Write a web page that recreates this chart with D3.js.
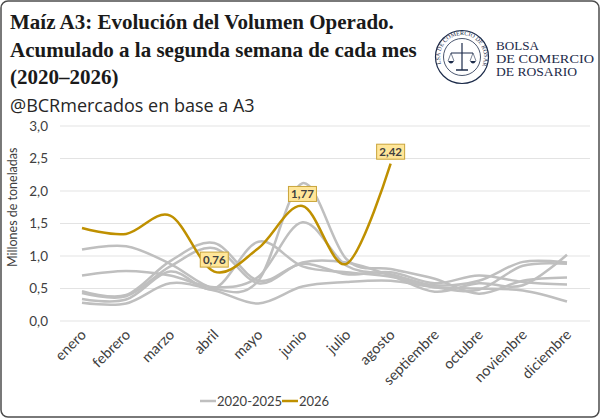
<!DOCTYPE html>
<html>
<head>
  <meta charset="utf-8">
  <title>Maiz A3</title>
  <style>
    body { margin: 0; background: #fff; }
    .axis text { font-family: Lato, "Open Sans", sans-serif; font-size: 14.5px; fill: #404040; }
    .axis path, .axis line { display: none; }
    .grid line { stroke: #e3e3e3; stroke-width: 1; }
  </style>
</head>
<body>
<script src="https://d3js.org/d3.v7.min.js"></script>
<script>
  var width = 600,
      height = 418;

  var months = ['enero', 'febrero', 'marzo', 'abril', 'mayo', 'junio', 'julio',
                'agosto', 'septiembre', 'octubre', 'noviembre', 'diciembre'];

  // 2020-2025 (gris)
  var y2020 = [0.28, 0.27, 0.58, 0.47, 0.27, 0.53, 0.60, 0.62, 0.52, 0.50, 0.47, 0.30];
  var y2021 = [1.10, 1.15, 0.88, 0.50, 0.62, 2.12, 0.95, 0.80, 0.65, 0.42, 0.62, 0.67];
  var y2022 = [0.70, 0.77, 0.70, 0.52, 0.68, 1.52, 0.85, 0.72, 0.55, 0.62, 0.91, 0.90];
  var y2023 = [0.46, 0.40, 0.92, 1.20, 0.62, 0.88, 0.72, 0.75, 0.58, 0.70, 0.60, 0.56];
  var y2024 = [0.43, 0.38, 0.84, 1.12, 0.58, 0.90, 0.90, 0.70, 0.45, 0.58, 0.55, 1.02];
  var y2025 = [0.34, 0.33, 0.76, 0.50, 1.22, 0.84, 0.75, 0.68, 0.52, 0.48, 0.85, 0.88];
  var past = [y2020, y2021, y2022, y2023, y2024, y2025];

  // 2026 (dorado)
  var y2026 = [1.43, 1.34, 1.62, 0.76, 1.12, 1.77, 0.88, 2.42];
  var labeled = ['abril', 'junio', 'agosto'];

  var yTicks = [0, 0.5, 1, 1.5, 2, 2.5, 3];

  var gray = '#bfbfbf',
      gold = '#bf9000',
      navy = '#1c2b4a';

  var svg = d3.select('body')
    .append('svg')
    .attr('width', width)
    .attr('height', height);

  svg.append('rect')
    .attr('x', 1).attr('y', 1)
    .attr('width', width - 2).attr('height', height - 2)
    .attr('rx', 7)
    .attr('fill', '#fff')
    .attr('stroke', '#4d4d4d')
    .attr('stroke-width', 1.5);

  // titulo
  var title = ['Maíz A3: Evolución del Volumen Operado.',
               'Acumulado a la segunda semana de cada mes',
               '(2020–2026)'];
  svg.selectAll('.title')
    .data(title)
    .enter()
    .append('text')
    .attr('class', 'title')
    .attr('x', 10)
    .attr('y', function(d, i) { return 29 + i * 27.5; })
    .attr('font-family', '"Liberation Serif", serif')
    .attr('font-weight', 'bold')
    .attr('font-size', 21)
    .attr('fill', '#1a1a1a')
    .text(function(d) { return d; });

  svg.append('text')
    .attr('x', 10)
    .attr('y', 112)
    .attr('font-family', '"Open Sans", sans-serif')
    .attr('font-size', 18)
    .attr('fill', '#262626')
    .text('@BCRmercados en base a A3');

  // logo
  var logo = svg.append('g').attr('transform', 'translate(462,57)');
  logo.append('circle').attr('r', 26.5).attr('fill', 'none').attr('stroke', navy).attr('stroke-width', 1.2);
  logo.append('circle').attr('r', 18.5).attr('fill', 'none').attr('stroke', navy).attr('stroke-width', 0.8);
  logo.append('path').attr('id', 'sealArc')
    .attr('d', 'M -20.5,8 A 22,22 0 1,1 20.5,8')
    .attr('fill', 'none');
  logo.append('text')
    .attr('font-family', '"Liberation Serif", serif')
    .attr('font-size', 6)
    .attr('fill', navy)
    .append('textPath')
    .attr('href', '#sealArc')
    .attr('startOffset', '50%')
    .attr('text-anchor', 'middle')
    .text('BOLSA DE COMERCIO DE ROSARIO');
  // balanza
  logo.append('line').attr('x1', 0).attr('y1', -14).attr('x2', 0).attr('y2', 13).attr('stroke', navy).attr('stroke-width', 1.2);
  logo.append('line').attr('x1', -11).attr('y1', -4).attr('x2', 11).attr('y2', -4).attr('stroke', navy).attr('stroke-width', 1);
  logo.append('path').attr('d', 'M -14,4 Q -11,9 -8,4 Z M 8,4 Q 11,9 14,4 Z').attr('fill', navy);
  logo.append('path').attr('d', 'M -11,-4 L -14,4 M -11,-4 L -8,4 M 11,-4 L 8,4 M 11,-4 L 14,4')
    .attr('stroke', navy).attr('stroke-width', 0.6);
  logo.append('path').attr('d', 'M -6,13 L 6,13').attr('stroke', navy).attr('stroke-width', 1.5);

  var logoText = [{t: 'BOLSA', w: 43}, {t: 'DE COMERCIO', w: 98}, {t: 'DE ROSARIO', w: 81}];
  svg.selectAll('.logoText')
    .data(logoText)
    .enter()
    .append('text')
    .attr('x', 496)
    .attr('y', function(d, i) { return 49.5 + i * 13; })
    .attr('font-family', '"Liberation Serif", serif')
    .attr('font-size', 11.5)
    .attr('textLength', function(d) { return d.w; })
    .attr('lengthAdjust', 'spacingAndGlyphs')
    .attr('fill', navy)
    .text(function(d) { return d.t; });

  // escalas
  var x = d3.scalePoint().domain(months).range([82, 567]);
  var y = d3.scaleLinear().domain([0, 3]).range([321, 126]);

  svg.append('g')
    .attr('class', 'grid')
    .selectAll('line')
    .data(yTicks)
    .enter()
    .append('line')
    .attr('x1', 60).attr('x2', 590)
    .attr('y1', function(d) { return y(d); })
    .attr('y2', function(d) { return y(d); });

  var fmt = function(d) { return d3.format('.1f')(d).replace('.', ','); };

  svg.append('g')
    .attr('class', 'axis')
    .attr('transform', 'translate(50,0)')
    .call(d3.axisLeft(y).tickValues(yTicks).tickFormat(fmt).tickSize(0).tickPadding(2))
    .selectAll('text')
    .style('font-size', '13.5px');

  svg.append('g')
    .attr('class', 'axis')
    .attr('transform', 'translate(0,' + 333 + ')')
    .call(d3.axisBottom(x).tickSize(0).tickPadding(0))
    .selectAll('text')
    .attr('text-anchor', 'end')
    .attr('dy', '0.35em')
    .attr('dx', '0.1em')
    .attr('y', 0)
    .attr('transform', 'rotate(-45)');

  svg.append('text')
    .attr('transform', 'translate(17,' + y(1.75) + ') rotate(-90)')
    .attr('text-anchor', 'middle')
    .attr('font-family', 'Lato, sans-serif')
    .attr('font-size', 12.5)
    .attr('fill', '#404040')
    .text('Millones de toneladas');

  var line = d3.line()
    .x(function(d, i) { return x(months[i]); })
    .y(function(d) { return y(d); })
    .curve(d3.curveCardinal.tension(0));

  svg.append('g')
    .selectAll('path')
    .data(past)
    .enter()
    .append('path')
    .attr('d', line)
    .attr('fill', 'none')
    .attr('stroke', gray)
    .attr('stroke-width', 2.5);

  svg.append('path')
    .datum(y2026)
    .attr('d', line)
    .attr('fill', 'none')
    .attr('stroke', gold)
    .attr('stroke-width', 2.5);

  // etiquetas de datos
  var labels = svg.append('g')
    .selectAll('g')
    .data(y2026.map(function(v, i) { return {m: months[i], v: v}; })
      .filter(function(d) { return labeled.indexOf(d.m) >= 0; }))
    .enter()
    .append('g')
    .attr('transform', function(d) { return 'translate(' + x(d.m) + ',' + (y(d.v) - 12) + ')'; });

  labels.append('rect')
    .attr('x', -14)
    .attr('y', -7.5)
    .attr('width', 28)
    .attr('height', 15)
    .attr('fill', '#ffe699')
    .attr('stroke', '#c9a43a')
    .attr('stroke-width', 1);

  labels.append('text')
    .attr('text-anchor', 'middle')
    .attr('dy', '0.36em')
    .attr('font-family', 'Lato, sans-serif')
    .attr('font-weight', 'bold')
    .attr('font-size', 11.5)
    .attr('fill', '#404040')
    .text(function(d) { return d3.format('.2f')(d.v).replace('.', ','); });

  // leyenda
  var legend = svg.append('g').attr('transform', 'translate(200,401)');
  var items = [{name: '2020-2025', color: gray, w: 82}, {name: '2026', color: gold, w: 0}];
  var lx = 0;
  items.forEach(function(it) {
    legend.append('line')
      .attr('x1', lx).attr('x2', lx + 16)
      .attr('stroke', it.color).attr('stroke-width', 2.5);
    legend.append('text')
      .attr('x', lx + 17)
      .attr('dy', '0.35em')
      .attr('font-family', 'Lato, sans-serif')
      .attr('font-size', 13)
      .attr('fill', '#404040')
      .text(it.name);
    lx += it.w;
  });
</script>
</body>
</html>
